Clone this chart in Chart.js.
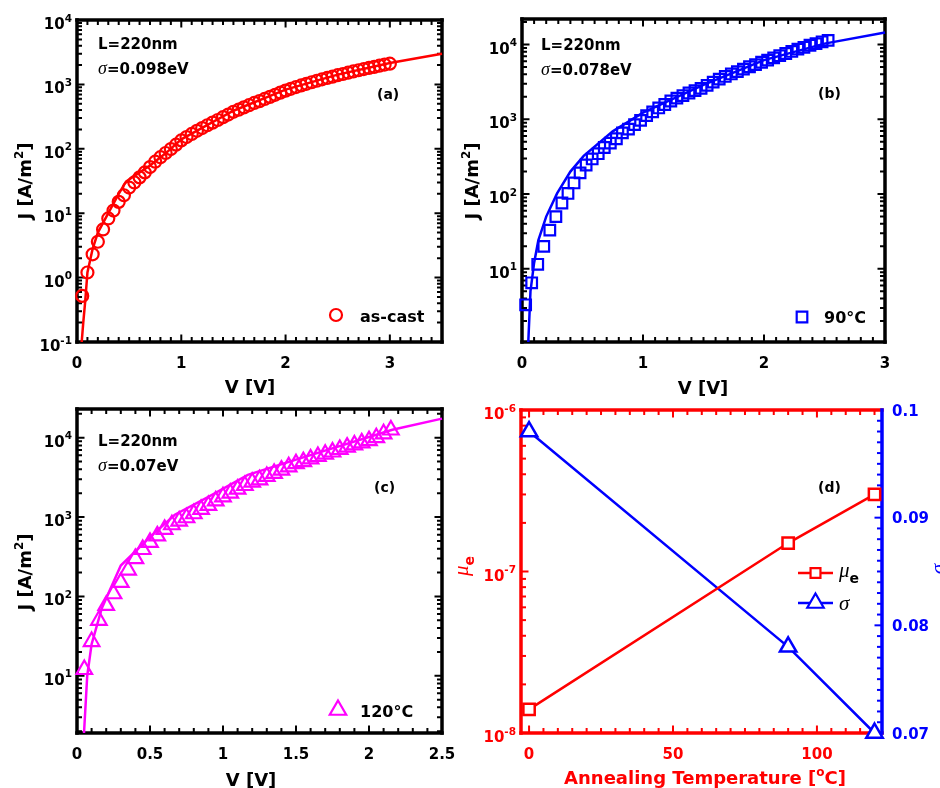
<!DOCTYPE html>
<html>
<head>
<meta charset="utf-8">
<script src="https://cdn.jsdelivr.net/npm/chart.js@4.4.1/dist/chart.umd.min.js"></script>
<style>
  body { margin: 0; background: #fff; }
  #wrap { position: relative; width: 940px; height: 788px; overflow: hidden; background: #fff; }
  canvas { position: absolute; }
</style>
</head>
<body>
<div id="wrap">
  <canvas id="chart-a" width="460" height="400" style="left:0;top:0"></canvas>
  <canvas id="chart-b" width="500" height="400" style="left:440px;top:0"></canvas>
  <canvas id="chart-c" width="460" height="393" style="left:0;top:395px"></canvas>
  <canvas id="chart-d" width="500" height="393" style="left:440px;top:395px"></canvas>
</div>
<script>
// tick labels (log axes hold the powers of ten)
const aXTicks = [0, 1, 2, 3]
const aYTicks = [-1, 0, 1, 2, 3, 4]
const bXTicks = [0, 1, 2, 3]
const bYTicks = [1, 2, 3, 4]
const cXTicks = [0, 0.5, 1, 1.5, 2, 2.5]
const cYTicks = [1, 2, 3, 4]
const dXTicks = [0, 50, 100]
const dYTicks = [-8, -7, -6]
const dSigmaTicks = [0.07, 0.08, 0.09, 0.1]

// (a) as-cast: measured J-V and fit
const aVolt = [0.05, 0.1, 0.15, 0.2, 0.25, 0.3, 0.35, 0.4, 0.45, 0.5,
  0.55, 0.6, 0.65, 0.7, 0.75, 0.8, 0.85, 0.9, 0.95, 1,
  1.05, 1.1, 1.15, 1.2, 1.25, 1.3, 1.35, 1.4, 1.45, 1.5,
  1.55, 1.6, 1.65, 1.7, 1.75, 1.8, 1.85, 1.9, 1.95, 2,
  2.05, 2.1, 2.15, 2.2, 2.25, 2.3, 2.35, 2.4, 2.45, 2.5,
  2.55, 2.6, 2.65, 2.7, 2.75, 2.8, 2.85, 2.9, 2.95, 3]
const aJ = [0.52, 1.2, 2.3, 3.6, 5.6, 8.3, 11, 15, 19, 25,
  30, 36, 43, 52, 63, 74, 86, 99, 116, 135,
  152, 170, 190, 210, 232, 255, 280, 310, 340, 375,
  405, 440, 475, 515, 550, 595, 640, 690, 745, 800,
  855, 910, 965, 1020, 1080, 1140, 1200, 1260, 1320, 1390,
  1450, 1520, 1590, 1660, 1730, 1800, 1870, 1950, 2030, 2100]
const aFitV = [0.045, 0.06, 0.08, 0.1, 0.15, 0.2, 0.3, 0.4, 0.47, 0.55, 0.7, 0.85, 1, 1.5, 2, 2.5, 3, 3.5]
const aFitJ = [0.1, 0.2, 0.45, 1.2, 2.8, 5, 10, 20, 31, 38, 55, 85, 140, 390, 830, 1420, 2150, 3000]

// (b) 90 C
const bVolt = [0.03, 0.08, 0.13, 0.18, 0.23, 0.28, 0.33, 0.38, 0.43, 0.48,
  0.53, 0.58, 0.63, 0.68, 0.73, 0.78, 0.83, 0.88, 0.93, 0.98,
  1.03, 1.08, 1.13, 1.18, 1.23, 1.28, 1.33, 1.38, 1.43, 1.48,
  1.53, 1.58, 1.63, 1.68, 1.73, 1.78, 1.83, 1.88, 1.93, 1.98,
  2.03, 2.08, 2.13, 2.18, 2.23, 2.28, 2.33, 2.38, 2.43, 2.48, 2.53]
const bJ = [3.3, 6.5, 11.5, 20, 33, 50, 76, 102, 141, 192,
  245, 295, 347, 420, 480, 550, 660, 740, 850, 970,
  1120, 1260, 1420, 1580, 1760, 1920, 2080, 2250, 2420, 2600,
  2850, 3150, 3450, 3750, 4050, 4350, 4700, 5050, 5400, 5800,
  6200, 6650, 7100, 7600, 8100, 8700, 9200, 9800, 10300, 10900, 11400]
const bFitV = [0.052, 0.07, 0.1, 0.135, 0.2, 0.29, 0.4, 0.51, 0.75, 1, 1.5, 2, 2.5, 3]
const bFitJ = [1.05, 5, 12, 24, 50, 102, 200, 325, 690, 1230, 2900, 6200, 10300, 14500]

// (c) 120 C
const cVolt = [0.05, 0.1, 0.15, 0.2, 0.25, 0.3, 0.35, 0.4, 0.45, 0.5,
  0.55, 0.6, 0.65, 0.7, 0.75, 0.8, 0.85, 0.9, 0.95, 1,
  1.05, 1.1, 1.15, 1.2, 1.25, 1.3, 1.35, 1.4, 1.45, 1.5,
  1.55, 1.6, 1.65, 1.7, 1.75, 1.8, 1.85, 1.9, 1.95, 2,
  2.05, 2.1, 2.15]
const cJ = [12, 27, 50, 77, 108, 150, 215, 300, 390, 480,
  580, 700, 800, 890, 980, 1100, 1250, 1400, 1600, 1800,
  2000, 2250, 2500, 2750, 2950, 3250, 3550, 3900, 4300, 4700,
  5000, 5400, 5800, 6200, 6600, 7100, 7600, 8100, 8600, 9200,
  10000, 11200, 12500]
const cFitV = [0.048, 0.07, 0.1, 0.17, 0.3, 0.5, 0.67, 0.9, 1.17, 1.5, 2.16, 2.5]
const cFitJ = [1.9, 10, 25, 71, 245, 560, 1070, 1800, 3400, 5300, 12600, 17400]

// (d) mobility and disorder vs annealing temperature
const dTemp = [0, 90, 120]
const dMu = [1.4e-8, 1.5e-7, 3.0e-7]
const dSigma = [0.098, 0.078, 0.07]

const RED = '#ff0000'
const BLUE = '#0000ff'
const MAGENTA = '#ff00ff'
const BLACK = '#000000'
const SANS = '"DejaVu Sans", Arial, sans-serif'
const SERIF = '"Liberation Serif", "DejaVu Serif", serif'
const bold = px => `bold ${px}px ${SANS}`
const ital = px => `italic ${px}px ${SERIF}`

const pts = (xs, ys) => xs.map((x, i) => ({ x, y: ys[i] }))

function drawRich(ctx, segs, x, y, align) {
  let w = 0
  for (const s of segs) { ctx.font = s.font; w += ctx.measureText(s.text).width }
  let cx = align === 'center' ? x - w / 2 : align === 'right' ? x - w : x
  ctx.textAlign = 'left'
  ctx.textBaseline = 'alphabetic'
  for (const s of segs) {
    ctx.font = s.font
    ctx.fillText(s.text, cx, y + (s.dy || 0))
    cx += ctx.measureText(s.text).width
  }
}

function drawMarker(ctx, style, r, x, y, color, fill, lw) {
  ctx.beginPath()
  if (style === 'circle') {
    ctx.arc(x, y, r, 0, Math.PI * 2)
  } else if (style === 'rect') {
    const s = Math.SQRT1_2 * r
    ctx.rect(x - s, y - s, 2 * s, 2 * s)
  } else {
    ctx.moveTo(x, y - r)
    ctx.lineTo(x + 0.866 * r, y + 0.5 * r)
    ctx.lineTo(x - 0.866 * r, y + 0.5 * r)
    ctx.closePath()
  }
  if (fill) { ctx.fillStyle = fill; ctx.fill() }
  ctx.strokeStyle = color
  ctx.lineWidth = lw
  ctx.stroke()
}

// all tick positions (major + minor) of one axis
function tickValues(scale, ax) {
  const out = []
  if (ax.log) {
    const lo = Math.floor(Math.log10(scale.min)), hi = Math.ceil(Math.log10(scale.max))
    for (let e = lo; e <= hi; e++) {
      for (let k = 1; k <= 9; k++) {
        const v = k * Math.pow(10, e)
        if (v >= scale.min * 0.999 && v <= scale.max * 1.001) out.push({ v, major: k === 1 })
      }
    }
  } else {
    const i0 = Math.ceil(scale.min / ax.minor - 1e-6), i1 = Math.floor(scale.max / ax.minor + 1e-6)
    for (let i = i0; i <= i1; i++) {
      const v = i * ax.minor
      out.push({ v, major: ax.ticks.some(t => Math.abs(t - v) < 1e-6) })
    }
  }
  return out
}

function drawTicks(chart, ax) {
  const ctx = chart.ctx, a = chart.chartArea, scale = chart.scales[ax.id]
  ctx.strokeStyle = ax.color
  ctx.lineWidth = 2
  for (const t of tickValues(scale, ax)) {
    const p = scale.getPixelForValue(t.v)
    const len = t.major ? 7.5 : 5
    ctx.beginPath()
    if (ax.side === 'bottom') {
      ctx.moveTo(p, a.bottom); ctx.lineTo(p, a.bottom - len)
      if (ax.mirror) { ctx.moveTo(p, a.top); ctx.lineTo(p, a.top + len) }
    } else if (ax.side === 'left') {
      ctx.moveTo(a.left, p); ctx.lineTo(a.left + len, p)
      if (ax.mirror) { ctx.moveTo(a.right, p); ctx.lineTo(a.right - len, p) }
    } else {
      ctx.moveTo(a.right, p); ctx.lineTo(a.right - len, p)
    }
    ctx.stroke()
  }
}

function drawLabels(chart, ax) {
  const ctx = chart.ctx, a = chart.chartArea, scale = chart.scales[ax.id]
  ctx.fillStyle = ax.color
  for (const t of ax.ticks) {
    const p = scale.getPixelForValue(ax.log ? Math.pow(10, t) : t)
    if (ax.side === 'bottom') {
      drawRich(ctx, [{ text: String(t), font: bold(15) }], p, a.bottom + 26, 'center')
    } else if (ax.side === 'left') {
      const segs = ax.log
        ? [{ text: '10', font: bold(15) }, { text: String(t), font: bold(10.5), dy: -7.5 }]
        : [{ text: String(t), font: bold(15) }]
      drawRich(ctx, segs, a.left - 5, p + (ax.log ? 9 : 5.5), 'right')
    } else {
      drawRich(ctx, [{ text: String(t), font: bold(15) }], a.right + 10, p + 5.5, 'left')
    }
  }
}

function drawBorder(chart, colors) {
  const ctx = chart.ctx, a = chart.chartArea
  ctx.lineWidth = 3.5
  ctx.lineCap = 'square'
  const sides = [
    ['left', a.left, a.top, a.left, a.bottom],
    ['top', a.left, a.top, a.right, a.top],
    ['bottom', a.left, a.bottom, a.right, a.bottom],
    ['right', a.right, a.top, a.right, a.bottom]
  ]
  for (const [k, x1, y1, x2, y2] of sides) {
    ctx.strokeStyle = colors[k]
    ctx.beginPath(); ctx.moveTo(x1, y1); ctx.lineTo(x2, y2); ctx.stroke()
  }
}

// MATLAB-like box, inward ticks, labels, notes and legend
function frame(cfg) {
  return {
    id: 'frame',
    beforeDatasetsDraw(chart) {
      const ctx = chart.ctx
      ctx.save()
      cfg.axes.forEach(ax => drawTicks(chart, ax))
      drawBorder(chart, cfg.border)
      ctx.restore()
    },
    afterDraw(chart) {
      const ctx = chart.ctx
      ctx.save()
      cfg.axes.forEach(ax => drawLabels(chart, ax))
      for (const t of cfg.texts) {
        ctx.fillStyle = t.color || BLACK
        if (t.rot) {
          ctx.save()
          ctx.translate(t.x, t.y)
          ctx.rotate(-Math.PI / 2)
          drawRich(ctx, t.segs, 0, 0, 'center')
          ctx.restore()
        } else {
          drawRich(ctx, t.segs, t.x, t.y, t.align || 'left')
        }
      }
      for (const l of cfg.legend) {
        if (l.line) {
          ctx.strokeStyle = l.color
          ctx.lineWidth = 2.5
          ctx.beginPath(); ctx.moveTo(l.line[0], l.y); ctx.lineTo(l.line[1], l.y); ctx.stroke()
        }
        drawMarker(ctx, l.style, l.r, l.x, l.y, l.color, l.fill, 2.2)
        ctx.fillStyle = BLACK
        drawRich(ctx, l.text, l.tx, l.ty, 'left')
      }
      ctx.restore()
    }
  }
}

const allBlack = { left: BLACK, top: BLACK, right: BLACK, bottom: BLACK }
const jTitle = [{ text: 'J [A/m', font: bold(18) }, { text: '2', font: bold(12), dy: -8 }, { text: ']', font: bold(18) }]
const sigmaNote = v => [{ text: 'σ', font: ital(18) }, { text: '=' + v, font: bold(15) }]

function baseOptions(pad, scales) {
  return {
    responsive: false,
    animation: false,
    devicePixelRatio: 1,
    layout: { padding: pad, autoPadding: false },
    plugins: { legend: { display: false }, tooltip: { enabled: false } },
    scales
  }
}

function fitLine(xs, ys, color) {
  return { data: pts(xs, ys), showLine: true, borderColor: color, borderWidth: 2.5, pointRadius: 0, clip: false }
}
function markers(xs, ys, color, style, r) {
  return {
    data: pts(xs, ys), showLine: false, pointStyle: style, pointRadius: r,
    pointBorderColor: color, pointBackgroundColor: 'rgba(0,0,0,0)', pointBorderWidth: 2.2, clip: false
  }
}

// (a)
new Chart(document.getElementById('chart-a'), {
  type: 'scatter',
  data: { datasets: [fitLine(aFitV, aFitJ, RED), markers(aVolt, aJ, RED, 'circle', 6)] },
  options: baseOptions({ left: 77, top: 20, right: 18, bottom: 58 }, {
    x: { type: 'linear', display: false, min: 0, max: 3.5, bounds: 'data' },
    y: { type: 'logarithmic', display: false, min: 0.1, max: 1e4, bounds: 'data' }
  }),
  plugins: [frame({
    axes: [
      { id: 'x', side: 'bottom', ticks: aXTicks, minor: 0.1, mirror: true, color: BLACK },
      { id: 'y', side: 'left', ticks: aYTicks, log: true, mirror: true, color: BLACK }
    ],
    border: allBlack,
    texts: [
      { segs: [{ text: 'L=220nm', font: bold(15) }], x: 98, y: 49 },
      { segs: sigmaNote('0.098eV'), x: 98, y: 74 },
      { segs: [{ text: '(a)', font: bold(14) }], x: 377, y: 99 },
      { segs: [{ text: 'V [V]', font: bold(18) }], x: 250, y: 393, align: 'center' },
      { segs: jTitle, x: 31, y: 181, rot: true }
    ],
    legend: [{ style: 'circle', r: 6, x: 336, y: 315, color: RED, text: [{ text: 'as-cast', font: bold(16) }], tx: 360, ty: 322 }]
  })]
})

// (b)
new Chart(document.getElementById('chart-b'), {
  type: 'scatter',
  data: { datasets: [fitLine(bFitV, bFitJ, BLUE), markers(bVolt, bJ, BLUE, 'rect', 7.5)] },
  options: baseOptions({ left: 82, top: 19, right: 55, bottom: 58 }, {
    x: { type: 'linear', display: false, min: 0, max: 3, bounds: 'data' },
    y: { type: 'logarithmic', display: false, min: 1.05, max: 22000, bounds: 'data' }
  }),
  plugins: [frame({
    axes: [
      { id: 'x', side: 'bottom', ticks: bXTicks, minor: 0.1, mirror: true, color: BLACK },
      { id: 'y', side: 'left', ticks: bYTicks, log: true, mirror: true, color: BLACK }
    ],
    border: allBlack,
    texts: [
      { segs: [{ text: 'L=220nm', font: bold(15) }], x: 101, y: 50 },
      { segs: sigmaNote('0.078eV'), x: 101, y: 75 },
      { segs: [{ text: '(b)', font: bold(14) }], x: 378, y: 98 },
      { segs: [{ text: 'V [V]', font: bold(18) }], x: 263, y: 394, align: 'center' },
      { segs: jTitle, x: 38, y: 181, rot: true }
    ],
    legend: [{ style: 'rect', r: 7.5, x: 362, y: 317, color: BLUE, text: [{ text: '90°C', font: bold(16) }], tx: 384, ty: 323 }]
  })]
})

// (c)
new Chart(document.getElementById('chart-c'), {
  type: 'scatter',
  data: { datasets: [fitLine(cFitV, cFitJ, MAGENTA), markers(cVolt, cJ, MAGENTA, 'triangle', 9)] },
  options: baseOptions({ left: 77, top: 14, right: 18, bottom: 55 }, {
    x: { type: 'linear', display: false, min: 0, max: 2.5, bounds: 'data' },
    y: { type: 'logarithmic', display: false, min: 1.9, max: 23000, bounds: 'data' }
  }),
  plugins: [frame({
    axes: [
      { id: 'x', side: 'bottom', ticks: cXTicks, minor: 0.1, mirror: true, color: BLACK },
      { id: 'y', side: 'left', ticks: cYTicks, log: true, mirror: true, color: BLACK }
    ],
    border: allBlack,
    texts: [
      { segs: [{ text: 'L=220nm', font: bold(15) }], x: 98, y: 51 },
      { segs: sigmaNote('0.07eV'), x: 98, y: 76 },
      { segs: [{ text: '(c)', font: bold(14) }], x: 374, y: 97 },
      { segs: [{ text: 'V [V]', font: bold(18) }], x: 251, y: 391, align: 'center' },
      { segs: jTitle, x: 31, y: 177, rot: true }
    ],
    legend: [{ style: 'triangle', r: 9.5, x: 338, y: 315, color: MAGENTA, text: [{ text: '120°C', font: bold(16) }], tx: 360, ty: 322 }]
  })]
})

// (d)
const muLabel = [{ text: 'μ', font: ital(21) }, { text: 'e', font: bold(14), dy: 6 }]
new Chart(document.getElementById('chart-d'), {
  type: 'scatter',
  data: {
    datasets: [
      {
        data: pts(dTemp, dMu), yAxisID: 'y', showLine: true, borderColor: RED, borderWidth: 2.5,
        pointStyle: 'rect', pointRadius: 8, pointBorderColor: RED, pointBackgroundColor: '#fff', pointBorderWidth: 2.5, clip: false
      },
      {
        data: pts(dTemp, dSigma), yAxisID: 'y2', showLine: true, borderColor: BLUE, borderWidth: 2.5,
        pointStyle: 'triangle', pointRadius: 9.5, pointBorderColor: BLUE, pointBackgroundColor: '#fff', pointBorderWidth: 2.5, clip: false
      }
    ]
  },
  options: baseOptions({ left: 81, top: 15, right: 58, bottom: 55 }, {
    x: { type: 'linear', display: false, min: -2.8, max: 122.6, bounds: 'data' },
    y: { type: 'logarithmic', display: false, position: 'left', min: 1e-8, max: 1e-6, bounds: 'data' },
    y2: { type: 'linear', display: false, position: 'right', min: 0.07, max: 0.1, bounds: 'data' }
  }),
  plugins: [frame({
    axes: [
      { id: 'x', side: 'bottom', ticks: dXTicks, minor: 5, mirror: true, color: RED },
      { id: 'y', side: 'left', ticks: dYTicks, log: true, mirror: false, color: RED },
      { id: 'y2', side: 'right', ticks: dSigmaTicks, minor: 0.001, color: BLUE }
    ],
    border: { left: RED, top: RED, bottom: RED, right: BLUE },
    texts: [
      { segs: [{ text: '(d)', font: bold(14) }], x: 378, y: 97 },
      {
        segs: [{ text: 'Annealing Temperature [', font: bold(18) }, { text: 'o', font: bold(12), dy: -8 }, { text: 'C]', font: bold(18) }],
        x: 265, y: 389, align: 'center', color: RED
      },
      { segs: muLabel, x: 28, y: 171, rot: true, color: RED },
      { segs: [{ text: 'σ', font: ital(21) }], x: 505, y: 174, rot: true, color: BLUE }
    ],
    legend: [
      { style: 'rect', r: 7, x: 375.5, y: 178, line: [358, 393], color: RED, fill: '#fff', text: muLabel, tx: 399, ty: 182 },
      { style: 'triangle', r: 9.5, x: 375.5, y: 208, line: [358, 393], color: BLUE, fill: '#fff', text: [{ text: 'σ', font: ital(21) }], tx: 399, ty: 215 }
    ]
  })]
})
</script>
</body>
</html>
